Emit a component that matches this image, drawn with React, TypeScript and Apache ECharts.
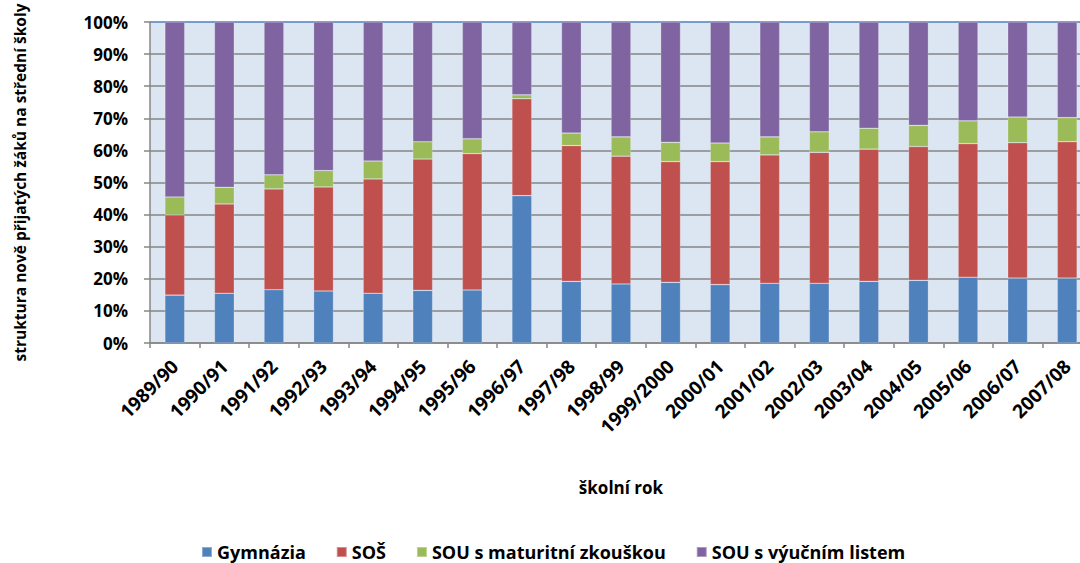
import React, { useEffect, useRef } from "react";
import * as echarts from "echarts";

const categories = [
  "1989/90", "1990/91", "1991/92", "1992/93", "1993/94", "1994/95", "1995/96",
  "1996/97", "1997/98", "1998/99", "1999/2000", "2000/01", "2001/02", "2002/03",
  "2003/04", "2004/05", "2005/06", "2006/07", "2007/08",
];

const gymnazia = [14.9, 15.5, 16.6, 16.2, 15.5, 16.4, 16.5, 45.9, 19.2, 18.4, 18.9, 18.2, 18.6, 18.6, 19.2, 19.5, 20.5, 20.2, 20.2];
const sos = [25.0, 27.8, 31.4, 32.4, 35.6, 40.9, 42.5, 30.2, 42.3, 39.8, 37.6, 38.3, 40.0, 40.8, 41.2, 41.7, 41.6, 42.2, 42.5];
const souMaturita = [5.6, 5.2, 4.4, 5.1, 5.6, 5.4, 4.6, 1.2, 3.9, 6.0, 6.0, 5.8, 5.6, 6.4, 6.5, 6.6, 7.1, 8.0, 7.5];
const souVyucni = [54.5, 51.5, 47.6, 46.3, 43.3, 37.3, 36.4, 22.7, 34.6, 35.8, 37.5, 37.7, 35.8, 34.2, 33.1, 32.2, 30.8, 29.6, 29.8];

const seriesNames = ["Gymnázia", "SOŠ", "SOU s maturitní zkouškou", "SOU s výučním listem"];
const seriesColors = ["#4f81bd", "#c0504d", "#9bbb59", "#8064a2"];
const yTicks = [0, 10, 20, 30, 40, 50, 60, 70, 80, 90, 100];

const FONT = "'Open Sans', 'Noto Sans', sans-serif";

export default function App() {
  const ref = useRef<HTMLDivElement>(null);

  useEffect(() => {
    if (!ref.current) return;
    const chart = echarts.init(ref.current, null, { renderer: "svg" });
    const data = [gymnazia, sos, souMaturita, souVyucni];
    const gridColors = yTicks.map((_, i) => (i === yTicks.length - 1 ? "#4f81bd" : "#868686"));
    chart.setOption({
      animation: false,
      backgroundColor: "#ffffff",
      textStyle: { fontFamily: FONT },
      grid: {
        left: 150,
        right: -12,
        top: 22,
        bottom: 220,
        show: true,
        backgroundColor: "#dce6f2",
        borderWidth: 0,
        containLabel: false,
        outerBoundsMode: "none",
      },
      legend: {
        left: 196,
        top: 538,
        itemWidth: 10,
        itemHeight: 10,
        itemGap: 30,
        icon: "rect",
        textStyle: { fontFamily: FONT, fontWeight: "bold", fontSize: 18, color: "#000" },
        data: seriesNames,
      },
      xAxis: {
        type: "category",
        data: categories,
        boundaryGap: true,
        name: "školní rok",
        nameLocation: "middle",
        nameGap: 136,
        nameTextStyle: { fontFamily: FONT, fontWeight: "bold", fontSize: 17, color: "#000" },
        axisLine: { show: true, lineStyle: { color: "#868686", width: 1.5 } },
        axisTick: { show: true, length: 5, alignWithLabel: false, lineStyle: { color: "#868686", width: 1.5 } },
        axisLabel: {
          rotate: 45,
          interval: 0,
          margin: 20,
          fontFamily: FONT,
          fontWeight: "bold",
          fontSize: 19,
          color: "#000",
        },
        splitLine: { show: false },
      },
      yAxis: {
        type: "value",
        min: 0,
        max: 100,
        interval: 10,
        name: "struktura nově přijatých žáků na střední školy",
        nameLocation: "middle",
        nameGap: 122,
        nameRotate: 90,
        nameTextStyle: { fontFamily: FONT, fontWeight: "bold", fontSize: 15.5, color: "#000" },
        axisLine: { show: true, lineStyle: { color: "#868686", width: 1.5 } },
        axisTick: { show: true, length: 6, lineStyle: { color: "#868686", width: 1.5 } },
        axisLabel: {
          formatter: "{value}%",
          margin: 22,
          fontFamily: FONT,
          fontWeight: "bold",
          fontSize: 17,
          color: "#000",
        },
        splitLine: { show: true, lineStyle: { color: gridColors, width: 1.5 } },
      },
      series: seriesNames.map((name, i) => ({
        name,
        type: "bar",
        stack: "total",
        barWidth: "40%",
        data: data[i],
        itemStyle: { color: seriesColors[i], borderColor: "rgba(255,255,255,0.35)", borderWidth: 0.6 },
      })),
    });
    return () => chart.dispose();
  }, []);

  return (
    <div
      ref={ref}
      style={{ position: "absolute", left: 0, top: 0, width: 1080, height: 563 }}
    />
  );
}
